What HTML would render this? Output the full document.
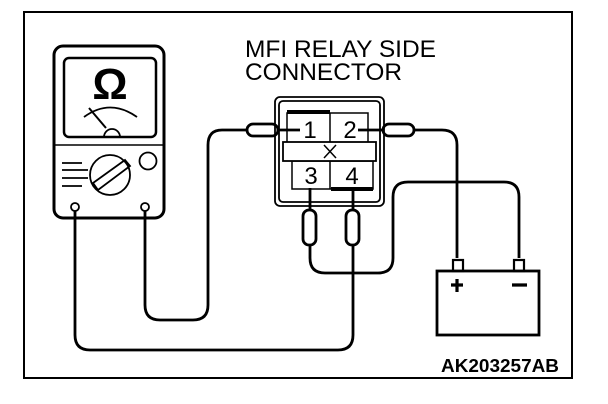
<!DOCTYPE html>
<html><head><style>body{margin:0;background:#fff}svg{display:block}</style></head>
<body>
<svg width="608" height="404" viewBox="0 0 608 404" xmlns="http://www.w3.org/2000/svg">
<rect x="0" y="0" width="608" height="404" fill="#fff"/>
<rect x="24" y="12" width="548" height="366" fill="none" stroke="#000" stroke-width="2"/>
<g fill="none" stroke="#000">
<!-- meter -->
<rect x="54" y="46" width="110" height="172" rx="9" stroke-width="3"/>
<rect x="64" y="58" width="92" height="79" rx="5" stroke-width="2.5"/>
<line x1="54" y1="145" x2="164" y2="145" stroke-width="1.5"/>
<path d="M84 117 Q110 98 137 117" stroke-width="1.8"/>
<line x1="89" y1="108" x2="106" y2="128" stroke-width="2"/>
<path d="M104 137 A8 8 0 0 1 120 137" stroke-width="1.8"/>
<circle cx="110" cy="175" r="20" stroke-width="1.8"/>
<circle cx="148" cy="161" r="8.5" stroke-width="1.8"/>
<path d="M62 163 H82 M62 170 H88 M62 178 H88 M62 186 H82" stroke-width="1.8"/>
<path d="M93 183 L125 160 L130 166 L98 190 Z" stroke-width="1.8"/>
<circle cx="75" cy="207" r="4" stroke-width="1.8"/>
<circle cx="145" cy="207" r="4" stroke-width="1.8"/>
<!-- connector -->
<rect x="275" y="97" width="109" height="109" rx="5" stroke-width="1.8"/>
<rect x="279" y="101" width="101" height="101" rx="4" stroke-width="1.8"/>
<rect x="287" y="113" width="81" height="30" stroke-width="1.5"/>
<rect x="292" y="161" width="81" height="28" stroke-width="1.5"/>
<rect x="283" y="142" width="93" height="19" stroke-width="1.8" fill="#fff"/>
<line x1="330" y1="113" x2="330" y2="142" stroke-width="1.5"/>
<line x1="330" y1="161" x2="330" y2="189" stroke-width="1.5"/>
<line x1="287" y1="112" x2="330" y2="112" stroke-width="4"/>
<line x1="331" y1="189" x2="373" y2="189" stroke-width="4"/>
<path d="M324 145 L336 158 M336 145 L324 158" stroke-width="1.5"/>
<!-- probes -->
<rect x="247" y="124" width="31" height="12" rx="6" stroke-width="2.8"/>
<rect x="383" y="124" width="31" height="12" rx="6" stroke-width="2.8"/>
<rect x="303" y="210" width="13" height="35" rx="6" stroke-width="2.8"/>
<rect x="346" y="210" width="13" height="35" rx="6" stroke-width="2.8"/>
<path d="M278 130 H300 M358 130 H383 M310 188 V210 M353 188 V210" stroke-width="2.8"/>
<!-- wires -->
<g stroke-width="2.8">
<path d="M247 130 H222 Q208 130 208 145 V305 Q208 320 193 320 H160 Q145 320 145 305 V211"/>
<path d="M75 211 V335 Q75 350 90 350 H338 Q353 350 353 335 V245"/>
<path d="M414 130 H442 Q457 130 457 145 V258"/>
<path d="M310 245 V258 Q310 273 325 273 H378 Q393 273 393 258 V197 Q393 182 408 182 H504 Q519 182 519 197 V258"/>
</g>
<!-- battery -->
<rect x="437" y="271" width="102" height="64" stroke-width="2.8"/>
<rect x="453" y="260" width="10" height="11" stroke-width="2.2"/>
<rect x="514" y="260" width="10" height="11" stroke-width="2.2"/>
<path d="M451 285 H463 M457 279 V292 M512 285 H527" stroke-width="3.2"/>
</g>
<text x="110" y="99" font-family="Liberation Sans, sans-serif" font-weight="bold" font-size="44" text-anchor="middle">Ω</text>
<g font-family="Liberation Sans, sans-serif" font-size="24">
<text x="245" y="57" textLength="191" lengthAdjust="spacingAndGlyphs">MFI RELAY SIDE</text>
<text x="245" y="80" textLength="157" lengthAdjust="spacingAndGlyphs">CONNECTOR</text>
</g>
<g font-family="Liberation Sans, sans-serif" font-size="24" text-anchor="middle">
<text x="310" y="138">1</text><text x="350" y="138">2</text>
<text x="311" y="184">3</text><text x="352" y="184">4</text>
</g>
<text x="441" y="372" font-family="Liberation Sans, sans-serif" font-weight="bold" font-size="18" textLength="118" lengthAdjust="spacingAndGlyphs">AK203257AB</text>
</svg>
</body></html>
